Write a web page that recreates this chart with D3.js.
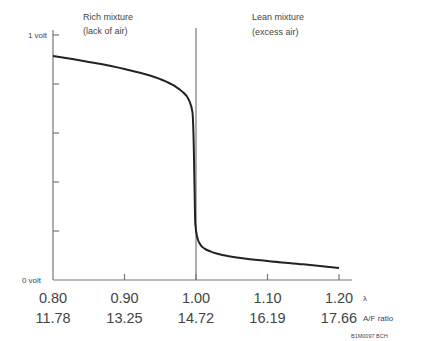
<!DOCTYPE html>
<html>
<head>
<meta charset="utf-8">
<script src="https://cdn.jsdelivr.net/npm/d3@7"></script>
<style>
  body { margin: 0; background: #fff; }
  text { font-family: "Liberation Sans", Arial, sans-serif; }
</style>
</head>
<body>
<div id="chart"></div>
<script>
// lambda values, with sensor voltage (volt)
var lambdaVals = [0.80, 0.85, 0.90, 0.95, 0.97, 0.98, 0.99, 0.995, 0.997, 0.998, 0.999, 1.002, 1.006, 1.012, 1.02, 1.03, 1.05, 1.10, 1.15, 1.20];
var voltVals   = [0.914, 0.890, 0.861, 0.820, 0.792, 0.771, 0.735, 0.686, 0.531, 0.367, 0.230, 0.172, 0.145, 0.128, 0.117, 0.107, 0.095, 0.078, 0.064, 0.049];

var lambdaTicks = [0.80, 0.90, 1.00, 1.10, 1.20];
var afrLabels = ["11.78", "13.25", "14.72", "16.19", "17.66"];
var voltTicks = [0, 0.2, 0.4, 0.6, 0.8, 1.0];

var width = 422, height = 341;
var svg = d3.select("#chart").append("svg")
    .attr("width", width)
    .attr("height", height);

var x = d3.scaleLinear().domain([0.80, 1.20]).range([53, 339]);
var y = d3.scaleLinear().domain([0, 1]).range([280, 35]);

var axisCol = "#777";
var textCol = "#444";

// y axis line with small inner ticks
svg.append("line")
    .attr("x1", x(0.80)).attr("x2", x(0.80))
    .attr("y1", y(1) - 5).attr("y2", y(0))
    .attr("stroke", axisCol).attr("stroke-width", 1.2);

svg.selectAll(".ytick").data(voltTicks.slice(1)).enter().append("line")
    .attr("x1", x(0.80)).attr("x2", x(0.80) + 6)
    .attr("y1", function(d) { return y(d); })
    .attr("y2", function(d) { return y(d); })
    .attr("stroke", axisCol).attr("stroke-width", 1.2);

// x axis baseline with upward ticks
svg.append("line")
    .attr("x1", x(0.80)).attr("x2", x(1.20) + 13)
    .attr("y1", y(0)).attr("y2", y(0))
    .attr("stroke", axisCol).attr("stroke-width", 1.2);

svg.selectAll(".xtick").data(lambdaTicks.slice(1)).enter().append("line")
    .attr("x1", function(d) { return x(d); })
    .attr("x2", function(d) { return x(d); })
    .attr("y1", y(0)).attr("y2", y(0) - 6)
    .attr("stroke", axisCol).attr("stroke-width", 1.2);

// lambda = 1 divider
svg.append("line")
    .attr("x1", x(1.00)).attr("x2", x(1.00))
    .attr("y1", 28).attr("y2", y(0))
    .attr("stroke", axisCol).attr("stroke-width", 1.2);

// the sensor curve
var pts = lambdaVals.map(function(l, i) { return [l, voltVals[i]]; });
var line = d3.line()
    .x(function(d) { return x(d[0]); })
    .y(function(d) { return y(d[1]); })
    .curve(d3.curveMonotoneX);

svg.append("path")
    .datum(pts)
    .attr("fill", "none")
    .attr("stroke", "#222")
    .attr("stroke-width", 2)
    .attr("d", line);

// tick labels
svg.selectAll(".lab1").data(lambdaTicks).enter().append("text")
    .attr("x", function(d) { return x(d); })
    .attr("y", 303)
    .attr("text-anchor", "middle")
    .style("font-size", "14.5px")
    .style("fill", textCol)
    .text(function(d) { return d.toFixed(2); });

svg.selectAll(".lab2").data(lambdaTicks).enter().append("text")
    .attr("x", function(d) { return x(d); })
    .attr("y", 323)
    .attr("text-anchor", "middle")
    .style("font-size", "14.5px")
    .style("fill", textCol)
    .text(function(d, i) { return afrLabels[i]; });

svg.append("text").attr("x", 363).attr("y", 301)
    .style("font-size", "8px").style("fill", textCol).text("λ");
svg.append("text").attr("x", 363).attr("y", 321)
    .style("font-size", "8px").style("fill", textCol).text("A/F ratio");
svg.append("text").attr("x", 351).attr("y", 338)
    .style("font-size", "5.5px").style("fill", textCol).text("B1M0097 BCH");

// volt labels
svg.append("text").attr("x", 47).attr("y", y(1) + 3)
    .attr("text-anchor", "end")
    .style("font-size", "8px").style("fill", textCol).text("1 volt");
svg.append("text").attr("x", 41).attr("y", y(0) + 3)
    .attr("text-anchor", "end")
    .style("font-size", "8px").style("fill", textCol).text("0 volt");

// region labels
svg.append("text").attr("x", 83).attr("y", 20)
    .style("font-size", "9px").style("fill", textCol).text("Rich mixture");
svg.append("text").attr("x", 83).attr("y", 34)
    .style("font-size", "9px").style("fill", textCol).text("(lack of air)");
svg.append("text").attr("x", 252).attr("y", 20)
    .style("font-size", "9px").style("fill", textCol).text("Lean mixture");
svg.append("text").attr("x", 252).attr("y", 35)
    .style("font-size", "9px").style("fill", textCol).text("(excess air)");
</script>
</body>
</html>
